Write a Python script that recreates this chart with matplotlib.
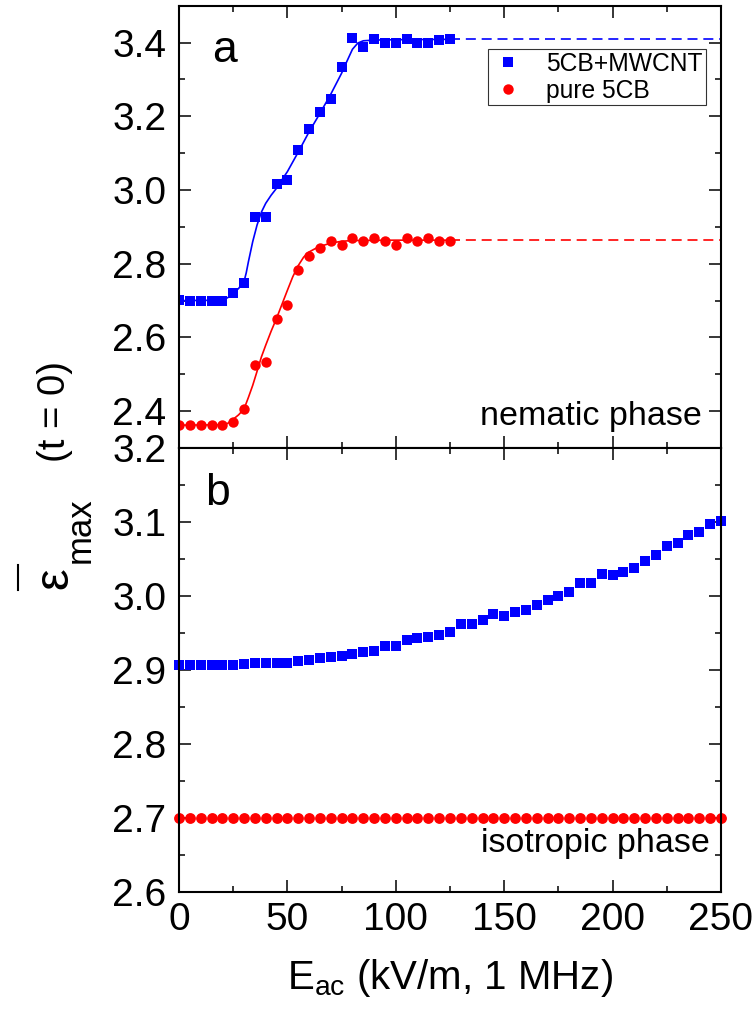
import matplotlib
matplotlib.use("Agg")
import matplotlib.pyplot as plt
from matplotlib.lines import Line2D
from matplotlib.ticker import MultipleLocator, FormatStrFormatter

plt.rcParams['font.family'] = ['Liberation Sans', 'DejaVu Sans']
plt.rcParams['mathtext.fontset'] = 'custom'
plt.rcParams['mathtext.rm'] = 'Liberation Sans'
plt.rcParams['mathtext.it'] = 'Liberation Sans'

# field (kV/m) for the nematic run, 5 kV/m steps
E_nem = [0, 5, 10, 15, 20, 25, 30, 35, 40, 45, 50, 55, 60, 65, 70, 75,
         80, 85, 90, 95, 100, 105, 110, 115, 120, 125]
eps_cnt_nem = [2.701, 2.700, 2.700, 2.700, 2.700, 2.721, 2.748, 2.926, 2.927,
               3.017, 3.027, 3.109, 3.165, 3.211, 3.246, 3.333, 3.412, 3.389,
               3.409, 3.400, 3.398, 3.410, 3.400, 3.398, 3.407, 3.411]
eps_pure_nem = [2.362, 2.362, 2.362, 2.362, 2.362, 2.370, 2.406, 2.526, 2.534,
                2.651, 2.687, 2.782, 2.822, 2.842, 2.861, 2.850, 2.870, 2.861,
                2.871, 2.861, 2.850, 2.871, 2.861, 2.871, 2.861, 2.861]

# fitted curves
fit_x_cnt = [0, 20, 22.5, 25, 27.5, 30, 31, 32, 34, 36, 38, 40, 42.5, 45,
             47.5, 50, 55, 60, 65, 70, 75, 77.5, 80, 82.5, 85, 90, 100, 125]
fit_y_cnt = [2.700, 2.701, 2.708, 2.720, 2.733, 2.752, 2.775, 2.805, 2.860,
             2.905, 2.940, 2.964, 2.986, 3.005, 3.028, 3.050, 3.103, 3.158,
             3.208, 3.260, 3.317, 3.350, 3.382, 3.399, 3.405, 3.407, 3.408, 3.409]
fit_x_pure = [0, 20, 22.5, 25, 27.5, 30, 32, 34, 36, 38, 40, 42.5, 45, 47.5,
              50, 52.5, 55, 57.5, 60, 62.5, 65, 70, 75, 80, 100, 125]
fit_y_pure = [2.362, 2.363, 2.367, 2.378, 2.390, 2.406, 2.437, 2.470, 2.508,
              2.547, 2.579, 2.617, 2.652, 2.690, 2.728, 2.765, 2.795, 2.818,
              2.832, 2.840, 2.847, 2.856, 2.861, 2.863, 2.864, 2.864]
# saturation levels, extended to 250 kV/m
ext_x = [125, 250]
sat_cnt = [3.409, 3.409]
sat_pure = [2.864, 2.864]

# isotropic run, 0..250 kV/m
E_iso = [0, 5, 10, 15, 20, 25, 30, 35, 40, 45, 50, 55, 60, 65, 70, 75, 80,
         85, 90, 95, 100, 105, 110, 115, 120, 125, 130, 135, 140, 145, 150,
         155, 160, 165, 170, 175, 180, 185, 190, 195, 200, 205, 210, 215,
         220, 225, 230, 235, 240, 245, 250]
eps_cnt_iso = [2.907, 2.907, 2.907, 2.907, 2.907, 2.907, 2.908, 2.909, 2.909,
               2.909, 2.910, 2.912, 2.914, 2.916, 2.918, 2.919, 2.922, 2.925,
               2.926, 2.932, 2.932, 2.941, 2.943, 2.944, 2.947, 2.952, 2.962,
               2.962, 2.968, 2.976, 2.973, 2.979, 2.981, 2.988, 2.995, 3.000,
               3.005, 3.017, 3.017, 3.030, 3.029, 3.032, 3.038, 3.047, 3.055,
               3.067, 3.071, 3.082, 3.086, 3.097, 3.102]
eps_pure_iso = [2.70] * len(E_iso)

blue = '#0000ff'
red = '#ff0000'

fig = plt.figure(figsize=(7.56, 10.28), dpi=100)
L, R = 179 / 756, 721 / 756
ax1 = fig.add_axes([L, 1 - 448 / 1028, R - L, (448 - 5.8) / 1028])
ax2 = fig.add_axes([L, 1 - 892 / 1028, R - L, (892 - 448) / 1028])

ax1.plot(fit_x_cnt, fit_y_cnt, color=blue, lw=1.2)
ax1.plot(fit_x_pure, fit_y_pure, color=red, lw=1.2)
ax1.plot(ext_x, sat_cnt, color=blue, lw=1.2, dashes=(6, 3.5))
ax1.plot(ext_x, sat_pure, color=red, lw=1.2, dashes=(6, 3.5))
ax1.plot(E_nem, eps_cnt_nem, 's', color=blue, ms=6.7, mew=0, label='5CB+MWCNT')
ax1.plot(E_nem, eps_pure_nem, 'o', color=red, ms=7.5, mew=0, label='pure 5CB')

ax2.plot(E_iso, eps_cnt_iso, 's', color=blue, ms=7, mew=0, clip_on=False)
ax2.plot(E_iso, eps_pure_iso, 'o', color=red, ms=7.8, mew=0, clip_on=False)

ax1.set_xlim(0, 250)
ax1.set_ylim(2.3, 3.5)
ax1.yaxis.set_major_locator(MultipleLocator(0.2))
ax1.yaxis.set_minor_locator(MultipleLocator(0.1))
ax2.set_xlim(0, 250)
ax2.set_ylim(2.6, 3.2)
ax2.yaxis.set_major_locator(MultipleLocator(0.1))
ax2.yaxis.set_minor_locator(MultipleLocator(0.05))

for ax in (ax1, ax2):
    ax.xaxis.set_major_locator(MultipleLocator(50))
    ax.xaxis.set_minor_locator(MultipleLocator(25))
    ax.tick_params(which='both', direction='in', top=True, right=True,
                   width=1.1, labelsize=28, pad=9)
    ax.tick_params(which='major', length=8.3)
    ax.tick_params(which='minor', length=4.2)
    ax.yaxis.set_major_formatter(FormatStrFormatter('%.1f'))
    for s in ax.spines.values():
        s.set_linewidth(1.5)
ax1.tick_params(labelbottom=False)
ax2.tick_params(axis='x', pad=7)

leg = ax1.legend(loc='upper right', bbox_to_anchor=(0.972, 0.902),
                 borderaxespad=0, fontsize=17.7, frameon=True, fancybox=False,
                 handlelength=1.4, handletextpad=0.85, labelspacing=0.1,
                 borderpad=0.12)
leg.get_frame().set_edgecolor('black')
leg.get_frame().set_linewidth(0.8)

ax1.text(0.062, 0.873, 'a', transform=ax1.transAxes, fontsize=32)
ax2.text(0.048, 0.872, 'b', transform=ax2.transAxes, fontsize=32)
ax1.text(0.965, 0.052, 'nematic phase', transform=ax1.transAxes,
         fontsize=24.5, ha='right')
ax2.text(0.980, 0.09, 'isotropic phase', transform=ax2.transAxes,
         fontsize=24.5, ha='right')

ax2.set_xlabel(r'E$_{\mathrm{ac}}$ (kV/m, 1 MHz)', fontsize=29, labelpad=14)

# y label built from pieces: epsilon with bar, "max" subscript, "(t = 0)"
fig.text(67 / 756, 1 - 578 / 1028, '\u03b5', fontsize=35, rotation=90,
         rotation_mode='anchor', ha='center', va='baseline')
fig.text(90 / 756, 1 - 530 / 1028, 'max', fontsize=25, rotation=90,
         rotation_mode='anchor', ha='center', va='baseline')
fig.text(65 / 756, 1 - 411 / 1028, '(t = 0)', fontsize=27.5, rotation=90,
         rotation_mode='anchor', ha='center', va='baseline')
fig.add_artist(Line2D([18 / 756, 18 / 756], [1 - 565 / 1028, 1 - 590 / 1028],
                      color='black', lw=1.5, transform=fig.transFigure))

fig.savefig('out.png', dpi=100)
